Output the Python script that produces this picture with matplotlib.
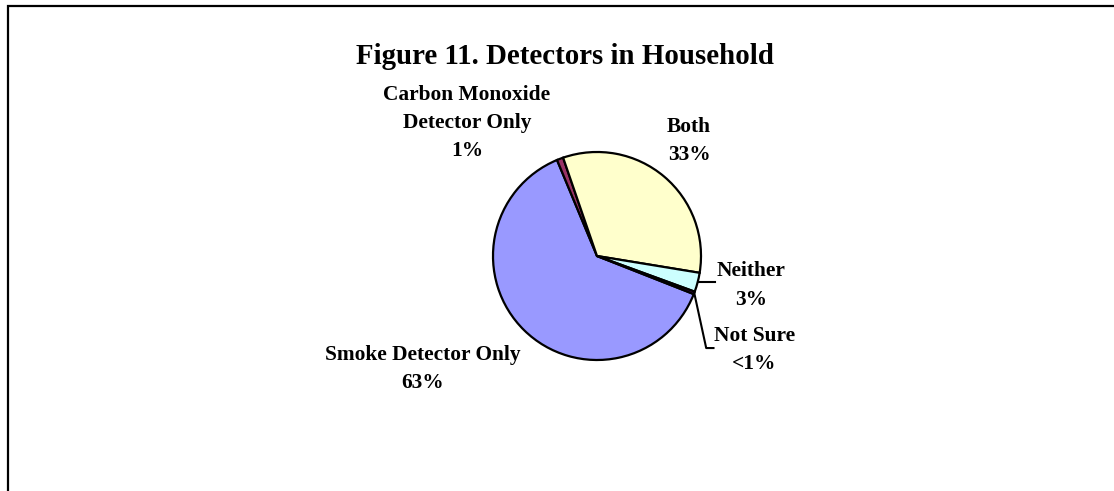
import numpy as np
import matplotlib
matplotlib.use("Agg")
import matplotlib.pyplot as plt
from matplotlib.patches import Rectangle

plt.rcParams['font.family'] = ['Liberation Serif', 'DejaVu Serif']
plt.rcParams['font.weight'] = 'bold'

# survey shares, in drawing order (clockwise)
categories = ['Smoke Detector Only', 'Carbon Monoxide\nDetector Only', 'Both', 'Neither', 'Not Sure']
shares = [63, 1, 33, 3, 0.4]
share_text = ['63%', '1%', '33%', '3%', '<1%']
colors = ['#9999FF', '#993366', '#FFFFCC', '#CCFFFF', '#660066']

# label centres, in units of the pie radius
label_pos = [(-1.673, -1.087), (-1.25, 1.28), (0.885, 1.106), (1.48, -0.284), (1.515, -0.904)]

fig = plt.figure(figsize=(11.14, 4.91), dpi=100)

# pie axes: centre ~ (597, 256) px, radius ~104 px
ax = fig.add_axes([493 / 1114, 131 / 491, 208 / 1114, 208 / 491])
wedges, _ = ax.pie(shares, colors=colors, startangle=-21.5, counterclock=False,
                   radius=1.0, wedgeprops=dict(edgecolor='black', linewidth=1.6))
ax.set_xlim(-1, 1)
ax.set_ylim(-1, 1)
ax.set_aspect('equal')
ax.axis('off')

for cat, txt, (x, y) in zip(categories, share_text, label_pos):
    ax.text(x, y, f"{cat}\n{txt}", ha='center', va='center', fontsize=15.4,
            fontweight='bold', linespacing=1.55, clip_on=False)

# leader lines for the two thin slices on the right
def edge_point(w):
    mid = np.deg2rad((w.theta1 + w.theta2) / 2)
    return np.cos(mid), np.sin(mid)

nx, ny = edge_point(wedges[3])
ax.plot([nx, 1.13], [ny, ny], color='black', lw=1.5, clip_on=False)
sx, sy = edge_point(wedges[4])
ax.plot([sx, 1.05, 1.12], [sy, -0.885, -0.885], color='black', lw=1.5, clip_on=False)

fig.text(565 / 1114, 1 - 56 / 491, 'Figure 11. Detectors in Household',
         ha='center', va='center', fontsize=20.8, fontweight='bold')

# chart area frame (open on the right and bottom)
fig.patches.append(Rectangle((8 / 1114, -0.5), 1.5, 1.5 - 5.5 / 491,
                             transform=fig.transFigure, fill=False,
                             edgecolor='black', linewidth=1.6))

fig.savefig('out.png', dpi=100)
